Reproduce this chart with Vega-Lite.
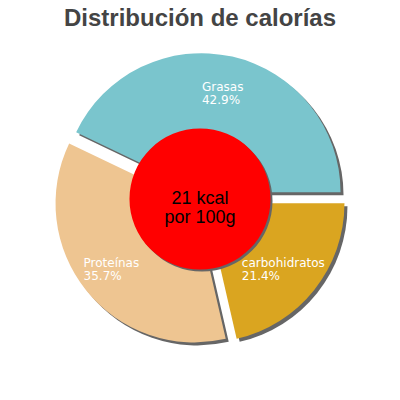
{
  "$schema": "https://vega.github.io/schema/vega-lite/v6.json",
  "width": 400,
  "height": 338,
  "autosize": "none",
  "padding": {"top": 30, "left": 0, "right": 0, "bottom": 0},
  "background": "white",
  "title": {
    "text": "Distribución de calorías",
    "font": "Liberation Sans",
    "fontSize": 24,
    "fontWeight": "bold",
    "color": "#444444",
    "anchor": "middle",
    "frame": "group",
    "baseline": "alphabetic",
    "offset": -20
  },
  "layer": [
    {
      "data": {
        "values": [
          {"nutrient": "carbohidratos", "pct": 21.4},
          {"nutrient": "Proteínas", "pct": 35.7},
          {"nutrient": "Grasas", "pct": 42.9}
        ]
      },
      "transform": [
        {"window": [{"op": "row_number", "as": "idx"}, {"op": "sum", "field": "pct", "as": "cum"}], "frame": [null, 0]},
        {"joinaggregate": [{"op": "sum", "field": "pct", "as": "total"}]},
        {"calculate": "PI / 2 + 2 * PI * (datum.cum - datum.pct / 2) / datum.total", "as": "mid"},
        {"calculate": "datum.nutrient + '\\n' + format(datum.pct, '.1f') + '%'", "as": "label"}
      ],
      "encoding": {
        "theta": {"field": "pct", "type": "quantitative", "stack": true, "scale": {"range": [1.5708, 7.854]}},
        "order": {"field": "idx", "type": "quantitative"}
      },
      "layer": [
        {
          "mark": {
            "type": "arc",
            "outerRadius": 139,
            "fill": "#666666",
            "xOffset": {"expr": "7 * sin(datum.mid) + 3"},
            "yOffset": {"expr": "-7 * cos(datum.mid) + 3"}
          }
        },
        {
          "mark": {
            "type": "arc",
            "outerRadius": 139,
            "xOffset": {"expr": "7 * sin(datum.mid)"},
            "yOffset": {"expr": "-7 * cos(datum.mid)"}
          },
          "encoding": {
            "color": {
              "field": "nutrient",
              "type": "nominal",
              "scale": {"domain": ["Grasas", "Proteínas", "carbohidratos"], "range": ["#7AC5CD", "#EEC591", "#DAA520"]},
              "legend": null
            }
          }
        },
        {
          "mark": {
            "type": "text",
            "radius": 110,
            "align": "left",
            "baseline": "middle",
            "font": "DejaVu Sans",
            "fontSize": 12,
            "lineHeight": 13,
            "lineBreak": "\n",
            "fill": "white",
            "dy": -5,
            "dx": {"expr": "-3.4 * length(datum.nutrient) - (datum.nutrient == 'Grasas' ? 2 : 0)"}
          },
          "encoding": {"text": {"field": "label", "type": "nominal"}}
        }
      ]
    },
    {
      "data": {"values": [{"kcal": 21, "base": "por 100g"}]},
      "transform": [{"calculate": "datum.kcal + ' kcal\\n' + datum.base", "as": "center"}],
      "layer": [
        {"mark": {"type": "arc", "theta": 0, "theta2": 6.2832, "outerRadius": 70.5, "fill": "#666666", "xOffset": 2, "yOffset": 2}, "encoding": {}},
        {"mark": {"type": "arc", "theta": 0, "theta2": 6.2832, "outerRadius": 70.5, "fill": "#FF0000"}, "encoding": {}},
        {
          "mark": {
            "type": "text",
            "align": "center",
            "baseline": "middle",
            "font": "Liberation Sans",
            "fontSize": 18,
            "lineHeight": 19,
            "lineBreak": "\n",
            "fill": "black"
          },
          "encoding": {"text": {"field": "center", "type": "nominal"}}
        }
      ]
    }
  ]
}
